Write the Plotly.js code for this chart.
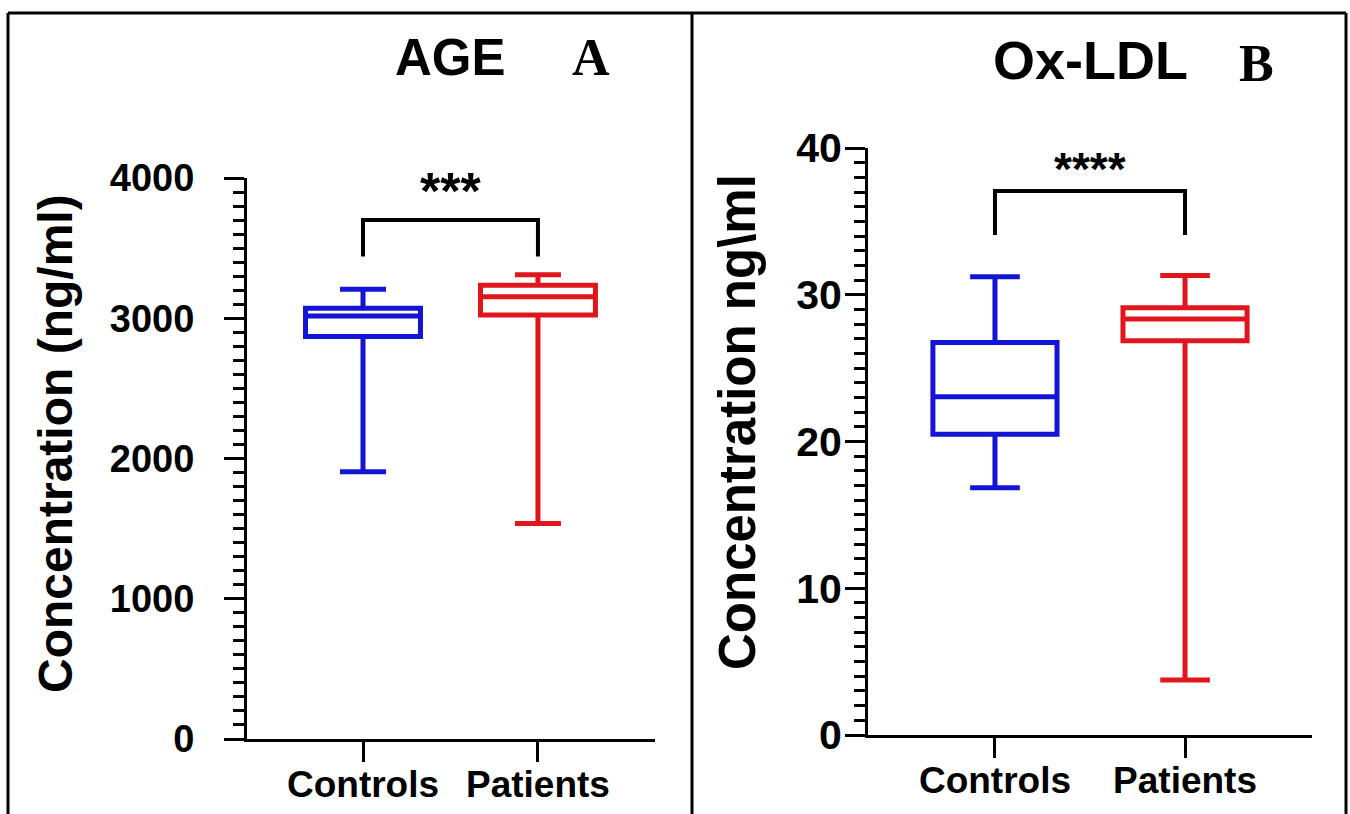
<!DOCTYPE html>
<html>
<head>
<meta charset="utf-8">
<script src="https://cdn.plot.ly/plotly-3.0.1.min.js"></script>
<style>html,body{margin:0;padding:0;background:#fff;}#chart{width:1350px;height:814px;}</style>
</head>
<body>
<div id="chart"></div>
<script>
// ---- data ----
const categories = ['Controls', 'Patients'];
const seriesColors = ['#1414d6', '#e0161c'];

// Panel A: AGE (ng/ml)
const ageLower  = [1905, 1537];
const ageQ1     = [2869, 3023];
const ageMedian = [3016, 3153];
const ageQ3     = [3072, 3236];
const ageUpper  = [3207, 3310];
const ageBracket = [3440, 3700];   // leg bottom, bar top
const ageStars = '***';
const ageTicks = [0, 1000, 2000, 3000, 4000];

// Panel B: Ox-LDL (ng\ml)
const oxLower  = [16.84, 3.75];
const oxQ1     = [20.5, 26.86];
const oxMedian = [23.05, 28.34];
const oxQ3     = [26.75, 29.12];
const oxUpper  = [31.23, 31.31];
const oxBracket = [34.07, 37.07];
const oxStars = '****';
const oxTicks = [0, 10, 20, 30, 40];

// ---- helpers ----
const W = 1350, H = 814;
const px = v => v / W;
const py = v => 1 - v / H;
const SANS = 'Liberation Sans, Arial, sans-serif';
const SERIF = 'Liberation Serif, Times New Roman, serif';

function boxTraces(lower, q1, med, q3, upper, xa, ya, w) {
  return categories.map((c, i) => ({
    type: 'box', xaxis: xa, yaxis: ya, name: c,
    x: [c], lowerfence: [lower[i]], q1: [q1[i]], median: [med[i]], q3: [q3[i]], upperfence: [upper[i]],
    boxpoints: false, width: w, whiskerwidth: 0.4,
    line: {color: seriesColors[i], width: 5}, fillcolor: 'rgba(255,255,255,0)',
    showlegend: false, hoverinfo: 'skip'
  }));
}

const data = [
  ...boxTraces(ageLower, ageQ1, ageMedian, ageQ3, ageUpper, 'x', 'y', 0.657),
  ...boxTraces(oxLower, oxQ1, oxMedian, oxQ3, oxUpper, 'x2', 'y2', 0.653)
];

const xCommon = {
  type: 'category', categoryorder: 'array', categoryarray: categories,
  showline: true, linecolor: '#000', linewidth: 3, mirror: false,
  ticks: 'outside', ticklen: 20, tickwidth: 3, tickcolor: '#000',
  showgrid: false, zeroline: false, fixedrange: true,
  tickfont: {family: SANS, size: 37, color: '#000', weight: 'bold'}
};
const yCommon = {
  showline: true, linecolor: '#000', linewidth: 3,
  ticks: 'outside', ticklen: 20, tickwidth: 3, tickcolor: '#000',
  showgrid: false, zeroline: false, fixedrange: true,
  tickfont: {family: SANS, color: '#000', weight: 'bold'}
};

const layout = {
  width: W, height: H,
  margin: {l: 0, r: 0, t: 0, b: 0},
  paper_bgcolor: '#fff', plot_bgcolor: '#fff',
  showlegend: false, boxmode: 'overlay',
  xaxis: Object.assign({}, xCommon, {
    domain: [px(247), px(655)], range: [-0.663, 1.669], anchor: 'y', ticklabelstandoff: -9
  }),
  yaxis: Object.assign({}, yCommon, {
    domain: [py(739), py(178)], range: [0, 4000], anchor: 'x',
    tickvals: ageTicks, ticktext: ageTicks.map(String), ticklabelstandoff: 22,
    tickfont: Object.assign({}, yCommon.tickfont, {size: 38}),
    minor: {dtick: 100, ticks: 'outside', ticklen: 11, tickwidth: 3, tickcolor: '#000', showgrid: false}
  }),
  xaxis2: Object.assign({}, xCommon, {
    domain: [px(868), px(1312)], range: [-0.668, 1.668], anchor: 'y2', ticklabelstandoff: -9
  }),
  yaxis2: Object.assign({}, yCommon, {
    domain: [py(735), py(148)], range: [0, 40], anchor: 'x2',
    tickvals: oxTicks, ticktext: oxTicks.map(String), ticklabelstandoff: -5,
    tickfont: Object.assign({}, yCommon.tickfont, {size: 41}),
    minor: {dtick: 1, ticks: 'outside', ticklen: 11, tickwidth: 3, tickcolor: '#000', showgrid: false}
  }),
  shapes: [
    // outer frame
    {type: 'line', xref: 'paper', yref: 'paper', x0: px(8), x1: px(1346), y0: py(13), y1: py(13), line: {color: '#000', width: 3}},
    {type: 'line', xref: 'paper', yref: 'paper', x0: px(8), x1: px(8), y0: py(13), y1: py(830), line: {color: '#000', width: 3}},
    {type: 'line', xref: 'paper', yref: 'paper', x0: px(692), x1: px(692), y0: py(13), y1: py(830), line: {color: '#000', width: 3}},
    {type: 'line', xref: 'paper', yref: 'paper', x0: px(1346), x1: px(1346), y0: py(13), y1: py(830), line: {color: '#000', width: 3}},
    // significance brackets
    {type: 'path', xref: 'x', yref: 'y',
     path: `M 0,${ageBracket[0]} L 0,${ageBracket[1]} L 1,${ageBracket[1]} L 1,${ageBracket[0]}`,
     line: {color: '#000', width: 4}},
    {type: 'path', xref: 'x2', yref: 'y2',
     path: `M 0,${oxBracket[0]} L 0,${oxBracket[1]} L 1,${oxBracket[1]} L 1,${oxBracket[0]}`,
     line: {color: '#000', width: 4}}
  ],
  annotations: [
    {text: ageStars, xref: 'x', yref: 'y', x: 0.5, y: ageBracket[1], yshift: 29, showarrow: false,
     xanchor: 'center', yanchor: 'middle', font: {family: SANS, size: 52, color: '#000', weight: 'bold'}},
    {text: oxStars, xref: 'x2', yref: 'y2', x: 0.5, y: oxBracket[1], yshift: 22, showarrow: false,
     xanchor: 'center', yanchor: 'middle', font: {family: SANS, size: 46, color: '#000', weight: 'bold'}},
    {text: 'AGE', xref: 'paper', yref: 'paper', x: px(450), y: py(57), showarrow: false,
     xanchor: 'center', yanchor: 'middle', font: {family: SANS, size: 51, color: '#000', weight: 'bold'}},
    {text: 'A', xref: 'paper', yref: 'paper', x: px(591), y: py(57), showarrow: false,
     xanchor: 'center', yanchor: 'middle', font: {family: SERIF, size: 52, color: '#000', weight: 'bold'}},
    {text: 'Ox-LDL', xref: 'paper', yref: 'paper', x: px(1090), y: py(60), showarrow: false,
     xanchor: 'center', yanchor: 'middle', font: {family: SANS, size: 54, color: '#000', weight: 'bold'}},
    {text: 'B', xref: 'paper', yref: 'paper', x: px(1256), y: py(63), showarrow: false,
     xanchor: 'center', yanchor: 'middle', font: {family: SERIF, size: 52, color: '#000', weight: 'bold'}},
    {text: 'Concentration (ng/ml)', xref: 'paper', yref: 'paper', x: px(56), y: py(444), textangle: -90,
     showarrow: false, xanchor: 'center', yanchor: 'middle', font: {family: SANS, size: 48, color: '#000', weight: 'bold'}},
    {text: 'Concentration ng\\ml', xref: 'paper', yref: 'paper', x: px(737), y: py(422), textangle: -90,
     showarrow: false, xanchor: 'center', yanchor: 'middle', font: {family: SANS, size: 51, color: '#000', weight: 'bold'}}
  ]
};

Plotly.newPlot('chart', data, layout, {staticPlot: true, displayModeBar: false});
</script>
</body>
</html>
